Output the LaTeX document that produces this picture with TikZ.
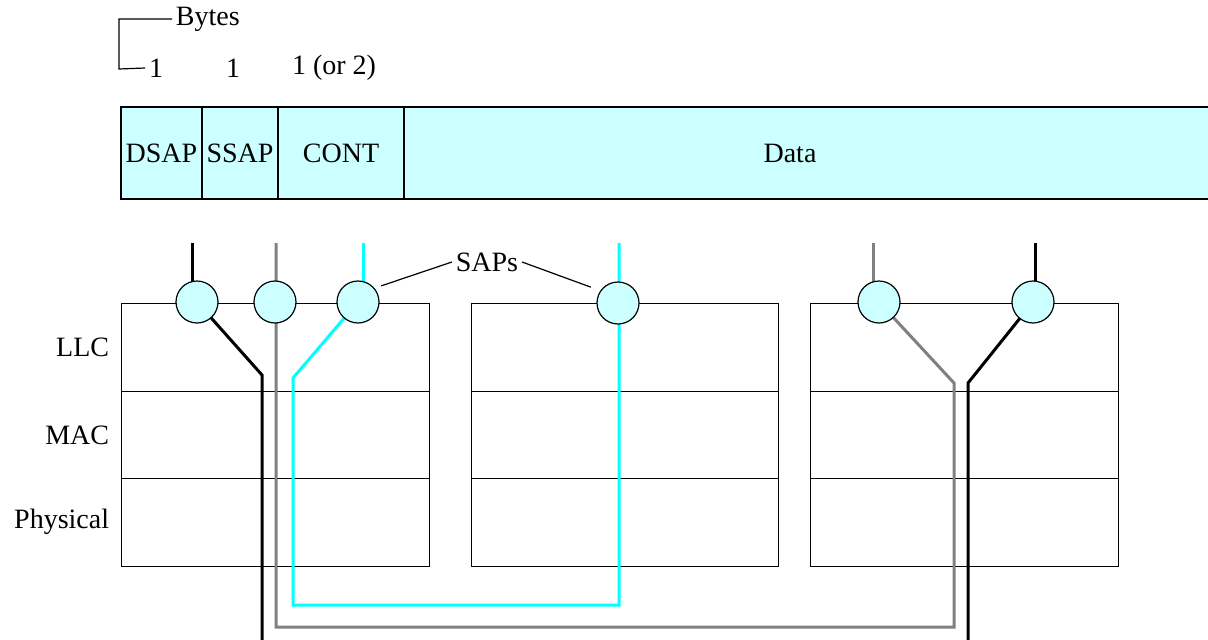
\documentclass[tikz,border=0pt]{standalone}
\usepackage{fontspec}
\setmainfont{Liberation Serif}
\usetikzlibrary{backgrounds}
\definecolor{sapfill}{RGB}{204,255,255}
\definecolor{sapcyan}{RGB}{0,255,255}
\definecolor{sapgray}{RGB}{128,128,128}
\def\RowA{303}
\def\RowB{391}
\def\RowC{478}
\def\RowD{566}

\begin{document}
\begin{tikzpicture}[x=1pt, y=-1pt, line width=1.2pt,
    font=\fontsize{28}{32}\selectfont,
    field/.style={draw, fill=sapfill, anchor=north west, minimum height=92pt, outer sep=0pt, inner sep=0pt},
    sap/.style={circle, draw, fill=sapfill, minimum size=42pt, inner sep=0pt},
    sigblack/.style={line width=3pt, black},
    siggray/.style={line width=3pt, sapgray},
    sigcyan/.style={line width=3pt, sapcyan}]
  \useasboundingbox (0,0) rectangle (1208,640);

  % byte counts
  \node[anchor=west] (bytes) at (172,19) {Bytes};
  \node (onea) at (156,68) {1};
  \node (oneb) at (233,68) {1};
  \node (onec) at (334,68) {1 (or 2)};
  \draw (bytes.west) -- (119,19) -- (119,69) -- (onea.west);

  % LLC header fields
  \node[field, minimum width=81pt] (dsapf) at (121,107) {DSAP};
  \node[field, minimum width=76pt] (ssapf) at (dsapf.north east) {SSAP};
  \node[field, minimum width=126pt] (contf) at (ssapf.north east) {CONT};
  \node[field, minimum width=830pt] (dataf) at (contf.north east) {};
  \node (datatxt) at (790,153) {Data};

  % layer names
  \node[anchor=east] (llc) at (113,347) {LLC};
  \node[anchor=east] (mac) at (113,435) {MAC};
  \node[anchor=east] (phy) at (113,522) {Physical};

  % service access points
  \node[sap] (dsap) at (197,302) {};
  \node[sap] (ssap) at (275,302) {};
  \node[sap] (cont) at (358,302) {};
  \node[sap] (msap) at (618,303) {};
  \node[sap] (rsapa) at (879,302) {};
  \node[sap] (rsapb) at (1033,302) {};

  \node (saps) at (487,262) {SAPs};
  \draw[shorten >=7pt] (saps.west) -- (cont.40);
  \draw[shorten >=10pt] (saps.east) -- (msap.145);

  \begin{scope}[on background layer]
    % stations: LLC / MAC / Physical
    \foreach \xa/\xb in {121/429, 471/778, 810/1118} {
      \draw (\xa,\RowA) rectangle (\xb,\RowD);
      \draw (\xa,\RowB) -- (\xb,\RowB);
      \draw (\xa,\RowC) -- (\xb,\RowC);
    }

    \coordinate (din) at (192,243);
    \coordinate (sin) at (276,243);
    \coordinate (cin) at (363,243);
    \coordinate (min) at (619,243);
    \coordinate (gin) at (873,243);
    \coordinate (kin) at (1035,243);

    \draw[sigblack] (din) -- (din |- dsap.center);
    \draw[sigblack] (dsap.center) -- (262,375) -- (262,640);

    \draw[siggray] (sin) -- (276,627) -- (954,627) -- (954,383) -- (rsapa.center);
    \draw[siggray] (gin) -- (gin |- rsapa.center);

    \draw[sigcyan] (cin) -- (cin |- cont.center);
    \draw[sigcyan] (cont.center) -- (293,378) -- (293,605) -- (619,605) -- (min);

    \draw[sigblack] (kin) -- (kin |- rsapb.center);
    \draw[sigblack] (rsapb.center) -- (968,383) -- (968,640);
  \end{scope}
\end{tikzpicture}
\end{document}
